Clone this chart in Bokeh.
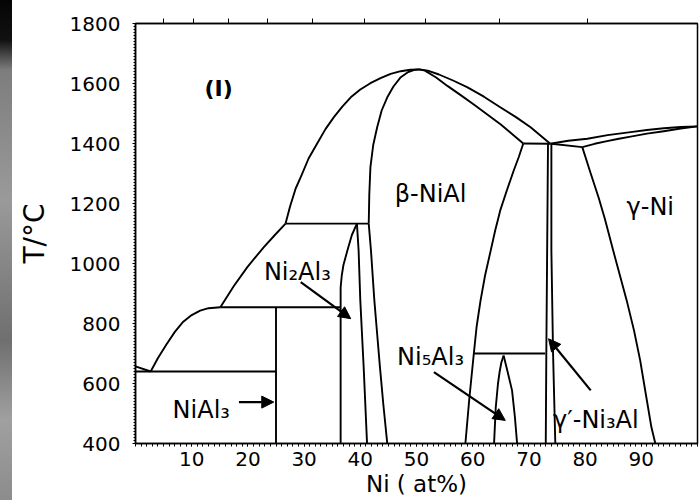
from bokeh.plotting import figure
from bokeh.models import (FixedTicker, LinearAxis, Range1d, Arrow, NormalHead,
                          ColumnDataSource, CustomJSTickFormatter, Div)
from bokeh.layouts import row
from bokeh.core.properties import value
from bokeh.embed import file_html
from bokeh.resources import INLINE

# ---------------- phase boundaries (Ni at%, T in C) -------------
al_liq_x = [0.0, 2.7]
al_liq_t = [657, 640]

eut640_x = [0.0, 25.0]
eut640_t = [640, 640]

liq1_x = [2.7, 4.0, 5.5, 7.0, 8.5, 10.0, 11.5, 13.0, 15.1]
liq1_t = [640, 685, 730, 772, 806, 828, 843, 851, 854]

per854_x = [15.1, 36.5]
per854_t = [854, 854]

nial3_x = [25.0, 25.0]
nial3_t = [400, 854]

liq2_x = [15.1, 17.5, 19.9, 22.8, 24.8, 26.7]
liq2_t = [854, 925, 988, 1054, 1095, 1133]

per1133_x = [26.7, 41.5]
per1133_t = [1133, 1133]

liq3_x = [26.7, 27.5, 28.5, 29.4, 30.8, 32.3, 33.8, 35.3, 36.8, 38.3, 40.0, 41.8,
          43.6, 45.4, 47.2, 48.9, 50.5, 52.0, 54.0, 56.5, 59.0, 62.0, 64.9, 67.7,
          70.3, 73.8]
liq3_t = [1133, 1190, 1250, 1288, 1350, 1399, 1448, 1488, 1523, 1554, 1580, 1601,
          1618, 1632, 1641, 1646, 1647, 1643, 1630, 1610, 1588, 1556, 1521, 1488,
          1454, 1399]

beta_sol_left_x = [41.5, 41.6, 41.8, 42.3, 43.0, 43.8, 44.8, 45.9, 47.2, 48.4, 49.5, 50.5]
beta_sol_left_t = [1133, 1230, 1321, 1395, 1454, 1510, 1554, 1590, 1621, 1637, 1645, 1647]

beta_sol_right_x = [50.5, 51.5, 53.5, 55.5, 57.8, 60.2, 62.6, 65.0, 67.0, 69.0]
beta_sol_right_t = [1647, 1643, 1620, 1592, 1562, 1530, 1497, 1463, 1432, 1400]

per1400_x = [69.0, 73.8]
per1400_t = [1400, 1399]

beta_right_x = [69.0, 68.2, 67.3, 66.1, 64.9, 64.0, 63.2, 62.2, 61.4, 60.7, 60.2, 59.4, 58.7]
beta_right_t = [1400, 1355, 1310, 1245, 1177, 1110, 1043, 960, 877, 790, 700, 550, 400]

beta_left_x = [41.5, 41.9, 42.5, 43.0, 43.5, 44.1, 44.8]
beta_left_t = [1133, 1043, 877, 765, 654, 530, 400]

ni2al3_left_x = [36.5, 36.5, 36.7, 37.0, 37.7, 38.5, 39.4]
ni2al3_left_t = [400, 920, 960, 995, 1043, 1095, 1133]

ni2al3_right_x = [39.4, 39.7, 40.0, 40.6, 41.2]
ni2al3_right_t = [1133, 1043, 877, 654, 400]

ni5al3_line_x = [60.2, 72.9]
ni5al3_line_t = [700, 700]

ni5al3_left_x = [65.5, 65.1, 64.8, 64.5, 64.3, 64.1, 64.0, 63.8]
ni5al3_left_t = [693, 670, 640, 600, 560, 520, 480, 400]

ni5al3_right_x = [65.5, 66.2, 67.0, 67.5, 67.9]
ni5al3_right_t = [693, 640, 577, 490, 400]

gp_left_x = [73.4, 73.1, 73.0]
gp_left_t = [1400, 700, 400]

gp_right_x = [74.0, 74.0, 74.3, 74.7]
gp_right_t = [1399, 1043, 700, 400]

gp_gamma_x = [74.0, 79.5]
gp_gamma_t = [1399, 1388]

gam_liq_x = [73.8, 77.0, 80.4, 84.0, 88.1, 91.0, 94.0, 97.0, 100.0]
gam_liq_t = [1399, 1409, 1416, 1428, 1438, 1445, 1451, 1455, 1457]

gam_sol_x = [79.5, 81.7, 83.9, 86.0, 88.1, 91.0, 94.0, 97.0, 100.0]
gam_sol_t = [1388, 1399, 1408, 1416, 1423, 1433, 1441, 1450, 1457]

gam_solvus_x = [79.5, 81.0, 82.4, 83.5, 85.0, 86.2, 87.4, 88.7, 89.8, 90.8, 91.8, 92.5]
gam_solvus_t = [1388, 1300, 1220, 1150, 1043, 960, 877, 777, 677, 565, 454, 400]

# ---------------- labels -------------------------------------------------------------
phase_text = ["β-NiAl", "γ-Ni", "Ni₂Al₃", "NiAl₃", "Ni₅Al₃"]
phase_x = [52.5, 91.6, 28.8, 11.7, 52.5]
phase_t = [1232, 1188, 971, 513, 688]

gp_text = ["γ′-Ni₃Al"]
gp_x = [74.3]
gp_t = [477]

panel_text = ["(I)"]
panel_x = [14.8]
panel_t = [1585]

# arrows: start -> end
arr_x0 = [29.4, 18.4, 53.1, 81.0]
arr_t0 = [938, 538, 638, 577]
arr_x1 = [38.3, 24.6, 65.8, 73.5]
arr_t1 = [816, 538, 477, 749]

# ticks
x_ticks = [10, 20, 30, 40, 50, 60, 70, 80, 90]
y_ticks = [400, 600, 800, 1000, 1200, 1400, 1600, 1800]
top_ticks = [5.0, 10.3, 16.5, 23.5, 31.5, 40.7, 51.6, 64.8, 80.5]

FONT = "DejaVu Sans"

p = figure(width=688, height=500, output_backend="svg", toolbar_location=None,
           x_range=Range1d(0, 100), y_range=Range1d(400, 1800),
           min_border_left=123, min_border_right=3, min_border_top=23, min_border_bottom=57)
p.grid.visible = False
p.outline_line_color = "black"
p.outline_line_width = 1.5
p.background_fill_color = "white"
p.border_fill_color = "white"

curves = [
    (al_liq_x, al_liq_t), (eut640_x, eut640_t), (liq1_x, liq1_t), (per854_x, per854_t),
    (nial3_x, nial3_t), (liq2_x, liq2_t), (per1133_x, per1133_t), (liq3_x, liq3_t),
    (beta_sol_left_x, beta_sol_left_t), (beta_sol_right_x, beta_sol_right_t),
    (per1400_x, per1400_t), (beta_right_x, beta_right_t), (beta_left_x, beta_left_t),
    (ni2al3_left_x, ni2al3_left_t), (ni2al3_right_x, ni2al3_right_t),
    (ni5al3_line_x, ni5al3_line_t), (ni5al3_left_x, ni5al3_left_t),
    (ni5al3_right_x, ni5al3_right_t), (gp_left_x, gp_left_t), (gp_right_x, gp_right_t),
    (gp_gamma_x, gp_gamma_t), (gam_liq_x, gam_liq_t), (gam_sol_x, gam_sol_t),
    (gam_solvus_x, gam_solvus_t),
]
p.multi_line(xs=[c[0] for c in curves], ys=[c[1] for c in curves],
             line_color="black", line_width=1.9, line_join="round")

arr_src = ColumnDataSource(dict(x0=arr_x0, y0=arr_t0, x1=arr_x1, y1=arr_t1))
p.add_layout(Arrow(end=NormalHead(size=12, fill_color="black", line_color="black"),
                   x_start="x0", y_start="y0", x_end="x1", y_end="y1",
                   source=arr_src, line_color="black", line_width=2.2))

p.text(x=phase_x, y=phase_t, text=phase_text, text_font=value(FONT),
       text_font_size="24px", text_align="center", text_baseline="alphabetic",
       text_color="black")
p.text(x=gp_x, y=gp_t, text=gp_text, text_font=value(FONT),
       text_font_size="24px", text_align="left", text_baseline="alphabetic",
       text_color="black")
p.text(x=panel_x, y=panel_t, text=panel_text, text_font=value(FONT),
       text_font_size="22px", text_font_style="bold", text_align="center",
       text_baseline="alphabetic", text_color="black")

# axes
xa = p.xaxis[0]
xa.ticker = FixedTicker(ticks=x_ticks, minor_ticks=list(range(0, 101)))
xa.major_tick_out = 3
xa.major_tick_in = 0
xa.minor_tick_out = 3
xa.minor_tick_in = 0
xa.major_label_standoff = 5
xa.axis_label = "Ni ( at%)"
xa.axis_label_standoff = 2
xa.axis_label_text_font = FONT
xa.axis_label_text_font_size = "23px"
xa.axis_label_text_font_style = "normal"
xa.axis_label_text_color = "black"
xa.major_label_text_font = FONT
xa.major_label_text_font_size = "20px"
xa.major_label_text_color = "black"
xa.axis_line_width = 1.5
xa.axis_line_color = "black"
xa.major_tick_line_color = "black"
xa.minor_tick_line_color = "black"

ya = p.yaxis[0]
ya.ticker = FixedTicker(ticks=y_ticks, minor_ticks=list(range(400, 1801, 10)))
ya.major_tick_out = 3
ya.major_tick_in = 0
ya.minor_tick_out = 2
ya.minor_tick_in = 0
ya.major_label_standoff = 12
ya.axis_label = "T/°C"
ya.axis_label_standoff = 16
ya.axis_label_text_font = FONT
ya.axis_label_text_font_size = "28px"
ya.axis_label_text_font_style = "normal"
ya.axis_label_text_color = "black"
ya.major_label_text_font = FONT
ya.major_label_text_font_size = "20px"
ya.major_label_text_color = "black"
ya.axis_line_width = 1.5
ya.axis_line_color = "black"
ya.major_tick_line_color = "black"
ya.minor_tick_line_color = "black"

top = LinearAxis(ticker=FixedTicker(ticks=top_ticks, minor_ticks=[]),
                 formatter=CustomJSTickFormatter(code="return ''"),
                 major_label_text_font_size="1px", major_label_standoff=0,
                 major_tick_out=5, major_tick_in=0, minor_tick_out=0, minor_tick_in=0,
                 axis_line_width=1.5, axis_line_color="black",
                 major_tick_line_color="black")
p.add_layout(top, "above")

# dark scanned edge at far left of the picture
edge = Div(width=12, height=500, margin=0,
           styles={"background": "linear-gradient(#050505 0px, #111 40px, #7d7d7d 70px, "
                                 "#9a9a9a 200px, #6f6f6f 340px, #a0a0a0 420px, #8c8c8c 500px)"})

layout = row(edge, p, spacing=0)
open("out.html", "w").write(file_html(layout, INLINE))
